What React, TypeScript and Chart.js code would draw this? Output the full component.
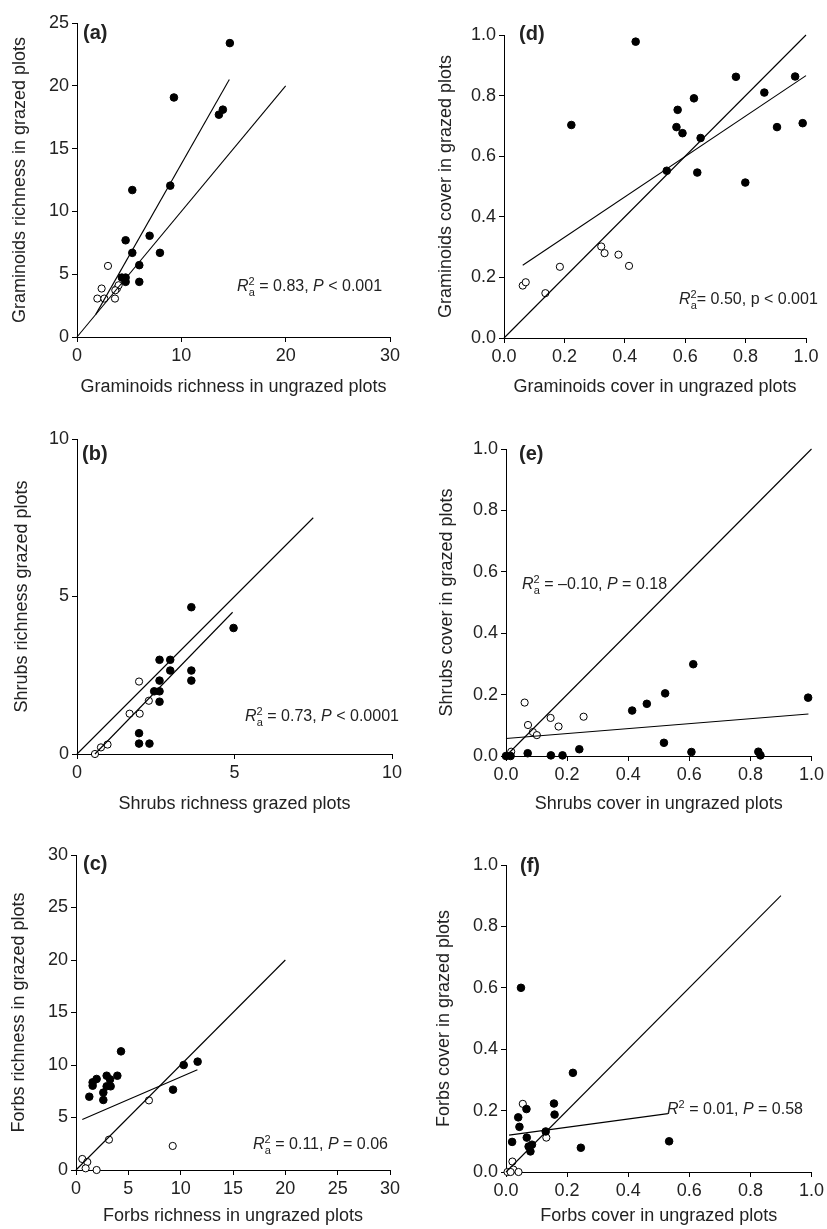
import { useEffect, useRef } from "react";
import { Chart, registerables } from "chart.js";

Chart.register(...registerables);

// ---- data: [x, y] pairs ----
const aFilled = [[14.65, 23.4], [9.29, 19.07], [13.6, 17.7], [13.98, 18.1], [8.94, 12.05], [5.3, 11.7], [4.66, 7.7], [6.96, 8.06], [5.3, 6.7], [7.95, 6.7], [5.97, 5.72], [5.97, 4.39], [4.66, 4.39], [4.66, 4.73], [4.3, 4.73]];
const aOpen = [[2.97, 5.66], [2.36, 3.86], [1.95, 3.06], [2.62, 3.06], [3.64, 3.06], [3.83, 3.86], [3.99, 4.12], [3.67, 3.72]];
const aLines = [[[0, 0], [20, 20]], [[1.8, 1.8], [14.6, 20.5]]];

const dFilled = [[0.436, 0.978], [0.223, 0.703], [0.768, 0.862], [0.964, 0.863], [0.862, 0.81], [0.629, 0.791], [0.575, 0.753], [0.571, 0.696], [0.591, 0.676], [0.651, 0.66], [0.904, 0.696], [0.989, 0.709], [0.539, 0.552], [0.64, 0.546], [0.799, 0.513]];
const dOpen = [[0.062, 0.173], [0.072, 0.184], [0.137, 0.148], [0.185, 0.235], [0.322, 0.302], [0.333, 0.28], [0.379, 0.275], [0.414, 0.238]];
const dLines = [[[0, 0], [1, 1]], [[0.062, 0.24], [1.0, 0.866]]];

const bFilled = [[3.63, 4.66], [4.97, 4.0], [2.62, 2.99], [2.96, 2.99], [2.96, 2.65], [3.63, 2.65], [2.62, 2.33], [3.63, 2.33], [2.45, 1.99], [2.62, 1.99], [2.62, 1.66], [1.97, 0.66], [1.97, 0.33], [2.3, 0.33]];
const bOpen = [[1.97, 2.3], [2.28, 1.69], [1.67, 1.28], [1.99, 1.28], [0.97, 0.3], [0.76, 0.21], [0.57, 0]];
const bLines = [[[0, 0], [7.5, 7.5]], [[0.57, 0], [4.94, 4.5]]];

const eFilled = [[0.613, 0.299], [0.989, 0.19], [0.521, 0.204], [0.461, 0.17], [0.413, 0.148], [0.517, 0.043], [0.24, 0.022], [0.607, 0.013], [0.826, 0.014], [0.833, 0.002], [0.071, 0.009], [0.147, 0.002], [0.185, 0.002], [0, 0], [0.015, 0]];
const eOpen = [[0.061, 0.174], [0.072, 0.101], [0.088, 0.078], [0.101, 0.068], [0.146, 0.124], [0.172, 0.096], [0.254, 0.128], [0.017, 0.014]];
const eLines = [[[0, 0], [1, 1]], [[0, 0.057], [0.99, 0.137]]];

const cFilled = [[4.3, 11.3], [10.29, 10.0], [11.62, 10.32], [3.95, 8.98], [2.93, 8.98], [3.25, 8.63], [1.97, 8.67], [1.59, 8.35], [1.59, 8.03], [2.93, 7.97], [3.31, 7.97], [2.61, 7.37], [2.61, 6.67], [1.27, 6.98], [9.27, 7.65]];
const cOpen = [[6.97, 6.63], [3.15, 2.89], [9.24, 2.29], [0.6, 1.05], [1.08, 0.76], [0.92, 0.16], [1.97, 0]];
const cLines = [[[0, 0], [20, 20]], [[0.6, 4.8], [11.6, 9.55]]];

const fFilled = [[0.049, 0.6], [0.219, 0.323], [0.157, 0.223], [0.159, 0.187], [0.067, 0.205], [0.04, 0.178], [0.044, 0.147], [0.068, 0.112], [0.02, 0.098], [0.13, 0.132], [0.074, 0.083], [0.085, 0.089], [0.08, 0.067], [0.245, 0.079], [0.534, 0.1]];
const fOpen = [[0.055, 0.222], [0.132, 0.112], [0.021, 0.034], [0.024, 0.008], [0.041, 0], [0.005, 0], [0.015, 0]];
const fLines = [[[0, 0], [0.9, 0.9]], [[0.01, 0.12], [0.53, 0.19]]];

const FONT = "'Liberation Sans', Arial, sans-serif";

type Panel = {
  filled: number[][];
  open: number[][];
  lines: number[][][];
  xMax: number;
  yMax: number;
  xStep: number;
  yStep: number;
  dec: number;
  xTitle: string;
  yTitle: string;
  plot: { l: number; t: number; r: number; b: number };
  yTitleX: number;
  xTitleY: number;
};

const panels: Panel[] = [
  { filled: aFilled, open: aOpen, lines: aLines, xMax: 30, yMax: 25, xStep: 10, yStep: 5, dec: 0, xTitle: "Graminoids richness in ungrazed plots", yTitle: "Graminoids richness in grazed plots", plot: { l: 77, t: 23, r: 390, b: 337 }, yTitleX: 20, xTitleY: 387 },
  { filled: dFilled, open: dOpen, lines: dLines, xMax: 1, yMax: 1, xStep: 0.2, yStep: 0.2, dec: 1, xTitle: "Graminoids cover in ungrazed plots", yTitle: "Graminoids cover in grazed plots", plot: { l: 504, t: 35, r: 806, b: 338 }, yTitleX: 446, xTitleY: 387 },
  { filled: bFilled, open: bOpen, lines: bLines, xMax: 10, yMax: 10, xStep: 5, yStep: 5, dec: 0, xTitle: "Shrubs richness grazed plots", yTitle: "Shrubs richness grazed plots", plot: { l: 77, t: 439, r: 392, b: 754 }, yTitleX: 22, xTitleY: 804 },
  { filled: eFilled, open: eOpen, lines: eLines, xMax: 1, yMax: 1, xStep: 0.2, yStep: 0.2, dec: 1, xTitle: "Shrubs cover in ungrazed plots", yTitle: "Shrubs cover in grazed plots", plot: { l: 506, t: 449, r: 812, b: 756 }, yTitleX: 447, xTitleY: 804 },
  { filled: cFilled, open: cOpen, lines: cLines, xMax: 30, yMax: 30, xStep: 5, yStep: 5, dec: 0, xTitle: "Forbs richness in ungrazed plots", yTitle: "Forbs richness in grazed plots", plot: { l: 76, t: 855, r: 390, b: 1170 }, yTitleX: 19, xTitleY: 1218 },
  { filled: fFilled, open: fOpen, lines: fLines, xMax: 1, yMax: 1, xStep: 0.2, yStep: 0.2, dec: 1, xTitle: "Forbs cover in ungrazed plots", yTitle: "Forbs cover in grazed plots", plot: { l: 506, t: 865, r: 812, b: 1172 }, yTitleX: 444, xTitleY: 1218 },
];

function ScatterPanel({ p }: { p: Panel }) {
  const ref = useRef<HTMLCanvasElement>(null);
  const left = Math.round(p.yTitleX - 13);
  const top = p.plot.t - 20;
  const right = Math.min(p.plot.r + 18, 827);
  const bottom = Math.min(Math.round(p.xTitleY + 13), 1229);
  const yW = p.plot.l - left;
  const xH = bottom - p.plot.b;

  useEffect(() => {
    if (!ref.current) return;
    const toPts = (a: number[][]) => a.map(([x, y]) => ({ x, y }));
    const axisCommon = (max: number, step: number, title: string) => ({
      type: "linear" as const,
      min: 0,
      max,
      grid: { display: true, drawOnChartArea: false, drawTicks: true, tickLength: 5, color: "#000" },
      border: { display: true, color: "#000", width: 1 },
      ticks: {
        stepSize: step,
        padding: 3,
        color: "#222",
        font: { family: FONT, size: 18 },
        callback: (v: any) => Number(v).toFixed(p.dec),
      },
      title: { display: true, text: title, color: "#222", font: { family: FONT, size: 18 }, padding: { top: 2, bottom: 2 } },
    });
    const chart = new Chart(ref.current, {
      type: "scatter",
      data: {
        datasets: [
          ...p.lines.map((l) => ({
            data: toPts(l),
            showLine: true,
            borderColor: "#000",
            borderWidth: 1.1,
            pointRadius: 0,
            clip: false as any,
          })),
          { data: toPts(p.filled), backgroundColor: "#000", borderColor: "#000", borderWidth: 1, pointRadius: 3.8, clip: false as any },
          { data: toPts(p.open), backgroundColor: "#fff", borderColor: "#000", borderWidth: 1, pointRadius: 3.6, clip: false as any },
        ],
      },
      options: {
        animation: false,
        responsive: false,
        layout: { padding: { left: 0, top: p.plot.t - top, right: right - p.plot.r, bottom: 0 } },
        plugins: { legend: { display: false }, tooltip: { enabled: false } },
        scales: {
          x: { ...axisCommon(p.xMax, p.xStep, p.xTitle), afterFit: (s: any) => { s.height = xH; } },
          y: { ...axisCommon(p.yMax, p.yStep, p.yTitle), afterFit: (s: any) => { s.width = yW; } },
        },
      } as any,
    });
    return () => chart.destroy();
  }, []);

  return (
    <canvas
      ref={ref}
      width={right - left}
      height={bottom - top}
      style={{ position: "absolute", left, top, width: right - left, height: bottom - top }}
    />
  );
}

const txt: React.CSSProperties = { position: "absolute", fontFamily: FONT, fontSize: 16, color: "#222", whiteSpace: "nowrap", lineHeight: "18px" };
const lab: React.CSSProperties = { position: "absolute", fontFamily: FONT, fontSize: 20, fontWeight: "bold", color: "#222", lineHeight: "22px" };

function R2({ sub, rest }: { sub?: boolean; rest: string }) {
  return (
    <>
      <i>R</i>
      <sup style={{ fontSize: 11 }}>2</sup>
      {sub && <sub style={{ fontSize: 11, marginLeft: -6 }}>a</sub>}
      {rest}
    </>
  );
}

export default function App() {
  return (
    <div style={{ position: "absolute", left: 0, top: 0, width: 827, height: 1229, background: "#fff", overflow: "hidden" }}>
      {panels.map((p, i) => (
        <ScatterPanel key={i} p={p} />
      ))}
      <div style={{ ...lab, left: 83, top: 21 }}>(a)</div>
      <div style={{ ...lab, left: 519, top: 22 }}>(d)</div>
      <div style={{ ...lab, left: 82, top: 442 }}>(b)</div>
      <div style={{ ...lab, left: 519, top: 442 }}>(e)</div>
      <div style={{ ...lab, left: 83, top: 852 }}>(c)</div>
      <div style={{ ...lab, left: 520, top: 854 }}>(f)</div>

      <div style={{ ...txt, left: 237, top: 272 }}><R2 sub rest=" = 0.83, " /><i>P</i> &lt; 0.001</div>
      <div style={{ ...txt, left: 679, top: 285 }}><R2 sub rest="= 0.50, p < 0.001" /></div>
      <div style={{ ...txt, left: 245, top: 702 }}><R2 sub rest=" = 0.73, " /><i>P</i> &lt; 0.0001</div>
      <div style={{ ...txt, left: 522, top: 570 }}><R2 sub rest=" = –0.10, " /><i>P</i> = 0.18</div>
      <div style={{ ...txt, left: 253, top: 1130 }}><R2 sub rest=" = 0.11, " /><i>P</i> = 0.06</div>
      <div style={{ ...txt, left: 667, top: 1095 }}><R2 rest=" = 0.01, " /><i>P</i> = 0.58</div>
    </div>
  );
}
